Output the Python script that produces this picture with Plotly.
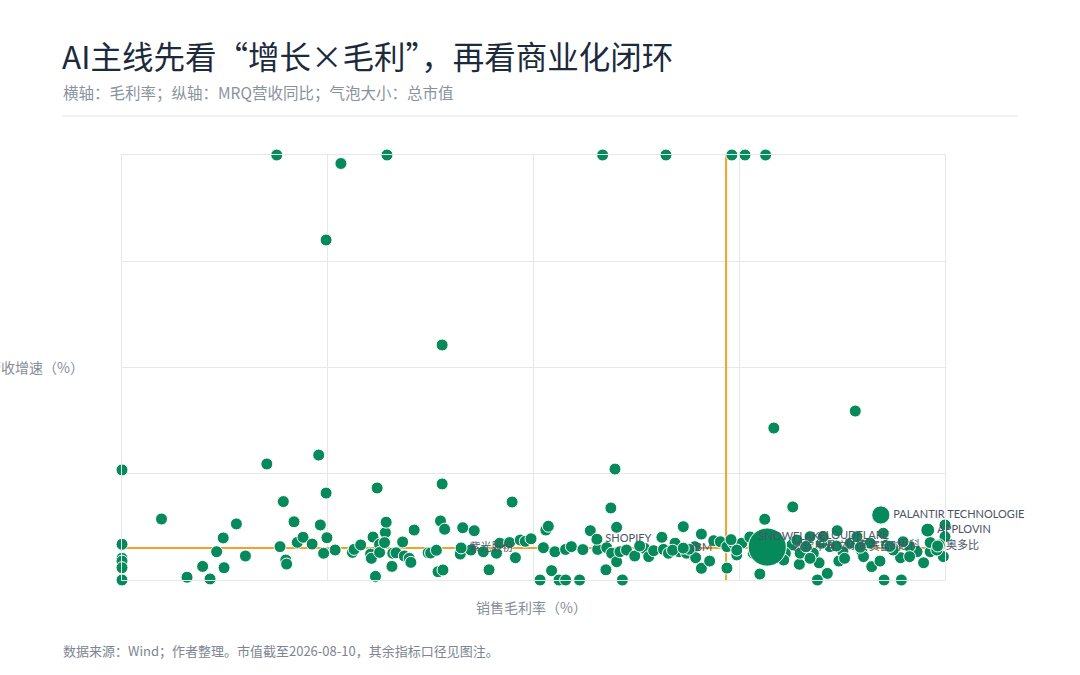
import plotly.graph_objects as go

# gross margin (%) / MRQ revenue growth (%) / market cap (unlabelled points)
margin = [
    18.8, 32.2, 58.4, 66.1, 74.1, 75.7, 78.2, 26.6, 24.8, 38.9,
    79.2, 89.1, 0.0, 17.6, 23.9, 38.9, 59.9, 24.8, 31.0, 47.4,
    59.4, 81.5, 100.0, 78.1,
    0.0, 0.0, 0.0, 0.0, 0.0, 4.8, 7.9, 9.8, 10.7, 11.5,
    12.3, 12.4, 13.9, 15.0, 19.6, 19.2, 19.9, 20.0, 20.9, 21.3,
    22.0, 23.1, 24.1, 24.5, 24.9, 25.9, 28.0, 28.2, 29.0, 30.2,
    30.3, 30.5, 30.8, 31.3, 31.3, 32.0, 32.1, 31.9, 32.9, 33.3,
    32.8, 34.1, 34.3, 34.9, 35.1, 35.5, 37.2,
    38.7, 39.2, 41.4, 42.8, 37.5, 38.2, 38.4, 39.0, 41.1, 42.4,
    43.9, 44.6, 45.5, 45.9, 47.1, 47.8, 48.4, 49.0, 49.7, 50.8,
    51.2, 51.5, 51.8, 52.2, 52.6, 53.1, 53.9, 53.9, 54.6, 55.6,
    56.0, 56.9, 57.8, 58.8, 58.9, 59.5, 60.1, 60.1, 60.5, 60.8,
    61.3, 62.3, 63.5, 64.0, 64.6, 65.6, 65.8, 66.4, 67.2, 67.7,
    68.2, 68.6, 69.6, 69.7, 70.4, 70.4, 71.4, 71.9, 72.7, 73.5,
    73.5, 74.3, 74.7, 62.9, 66.9, 68.9,
    75.3, 74.7, 77.5, 82.3, 84.5, 85.7, 84.7, 87.1, 91.1, 92.6,
    94.7, 94.6, 92.1, 97.4, 99.8, 100.0, 99.3, 98.2, 96.6, 98.2,
    95.7, 92.9, 90.9, 89.9, 88.5, 87.6, 86.0, 85.0, 84.0, 83.2,
    82.4, 81.4, 80.6, 79.9, 92.5, 94.9, 93.7, 89.3, 85.2, 82.0,
    87.8, 83.6, 80.4, 90.1, 95.7, 99.0, 76.7, 86.9, 74.0,
]
growth = [
    200.0, 200.0, 200.0, 200.0, 200.0, 200.0, 200.0, 196.0, 160.0, 110.6,
    71.5, 79.5, 51.8, 54.6, 58.8, 45.2, 52.2, 40.9, 43.3, 36.7,
    33.9, 34.4, 25.9, 28.6,
    16.8, 10.2, 8.9, 5.8, 0.0, 28.7, 1.3, 6.4, 0.5, 13.3,
    19.8, 5.8, 26.4, 11.3, 36.9, 15.7, 9.4, 7.5, 27.4, 17.7,
    20.1, 16.9, 25.9, 12.6, 19.9, 14.1, 13.0, 14.4, 16.5, 12.2,
    10.2, 20.2, 1.7, 16.8, 13.0, 22.3, 27.2, 17.6, 12.6, 12.8,
    6.4, 17.9, 11.3, 10.2, 8.3, 23.5, 12.8,
    27.8, 23.9, 24.6, 23.2, 12.7, 14.0, 3.9, 4.7, 12.2, 14.1,
    13.3, 4.8, 12.6, 17.3, 17.6, 10.5, 18.8, 18.2, 19.4, 0.0,
    15.2, 23.5, 25.3, 4.4, 13.3, 0.0, 0.0, 14.4, 15.7, 0.0,
    14.3, 23.2, 14.4, 4.8, 15.2, 12.6, 24.8, 8.6, 13.3, 0.0,
    14.1, 11.3, 14.9, 11.0, 13.8, 20.1, 14.4, 12.6, 17.3, 13.3,
    25.1, 12.6, 15.7, 10.5, 21.6, 5.5, 8.9, 18.5, 18.0, 15.7,
    5.6, 17.3, 11.8, 16.0, 14.0, 14.5,
    17.3, 14.1, 2.8, 7.4, 0.0, 3.1, 8.1, 8.9, 6.3, 0.0,
    0.0, 10.5, 8.9, 8.1, 11.0, 20.4, 16.5, 13.3, 13.3, 17.6,
    15.7, 16.5, 17.3, 13.3, 17.3, 13.3, 15.7, 17.3, 12.6, 15.7,
    12.6, 16.5, 12.6, 18.0, 22.0, 18.0, 14.1, 20.4, 20.4, 18.8,
    10.2, 10.2, 9.4, 11.0, 11.0, 14.1, 12.6, 23.2, 19.0,
]
market_cap = [
    1500, 2600, 1500, 1500, 1600, 1600, 1500, 1400, 1400, 1400,
    1500, 1500, 2500, 1500, 1600, 2200, 1600, 2200, 1600, 1600,
    1600, 3000, 2000, 2800,
    2000, 2000, 2000, 2000, 2000, 1800, 1800, 1800, 1800, 1800,
    1900, 1800, 2000, 1900, 1900, 2200, 2000, 2000, 2400, 2000,
    2100, 2000, 2000, 2000, 2400, 2000, 1900, 2000, 2000, 2000,
    2000, 2000, 2000, 2000, 2100, 2000, 2100, 2000, 2000, 2000,
    1900, 2000, 2000, 2100, 1900, 2000, 2000,
    2100, 2000, 2000, 1900, 2000, 2100, 1900, 1900, 2200, 2000,
    2000, 1800, 2100, 2000, 2100, 2000, 2000, 2000, 2000, 2000,
    2100, 2000, 2100, 1900, 2100, 1800, 1800, 2000, 2000, 1800,
    2100, 2000, 2100, 1900, 2100, 2000, 2000, 2000, 2100, 1800,
    2100, 2000, 2100, 2000, 2200, 2000, 2200, 2100, 2200, 2300,
    2300, 2100, 2200, 2000, 2000, 2000, 2000, 2200, 2100, 2200,
    2100, 2400, 2200, 2100, 2400, 2200,
    2400, 2300, 1900, 2200, 2000, 1900, 2200, 2100, 2100, 2200,
    2200, 2100, 2100, 2200, 2100, 2300, 2300, 2400, 2300, 2400,
    2400, 2400, 2400, 2400, 2500, 2400, 2500, 2500, 2500, 2500,
    2500, 2500, 2400, 2500, 2500, 2400, 2400, 2500, 2500, 2500,
    2300, 2300, 2300, 2300, 2300, 2300, 2400, 3300, 2400,
]

# labelled companies
label_names = ["SHOPIFY", "IBM", "紫光股份", "SNOWFLAKE", "CLOUDFLARE",
               "PALANTIR TECHNOLOGIE", "APPLOVIN", "微软", "甲骨文", "财捷",
               "赛富时", "思科", "奥多比"]
label_margin = [57.7, 68.2, 41.2, 76.3, 83.6, 92.2, 97.9, 78.4, 83.1, 86.8, 89.7, 93.3, 99.1]
label_growth = [19.2, 15.0, 15.1, 20.2, 20.4, 30.6, 23.5, 15.5, 15.6, 16.0, 15.4, 15.8, 16.0]
label_cap = [3000, 2600, 2200, 3600, 2600, 8000, 4600, 35000, 2800, 2600, 2600, 2600, 2600]

median_margin = 73.4
median_growth = 15.1

GREEN = "#078a5b"
ORANGE = "#f0a328"
GRID = "#e6e7eb"
FONT = "'Noto Sans CJK SC', Lato, sans-serif"

W, H = 1080, 675
L, R, T, B = 122, 945, 155, 580


def px_x(p):
    return (p - L) / (R - L)


def px_y(p):
    return (B - p) / (B - T)


marker = dict(color=GREEN, sizemode="area", sizeref=48, sizemin=6,
              line=dict(color="white", width=1), opacity=1)

fig = go.Figure()
fig.add_trace(go.Scatter(
    x=margin, y=growth, mode="markers",
    marker=dict(marker, size=market_cap),
    cliponaxis=False, hoverinfo="x+y"))
fig.add_trace(go.Scatter(
    x=label_margin, y=label_growth, mode="markers+text",
    text=label_names, textposition="middle right",
    textfont=dict(size=11, color="#4a5462", family="Lato, 'Noto Sans CJK SC', sans-serif"),
    marker=dict(marker, size=label_cap),
    cliponaxis=False, hoverinfo="text+x+y"))

# median reference lines
fig.add_shape(type="line", xref="x", yref="y", x0=0, x1=100, y0=median_growth, y1=median_growth,
              line=dict(color=ORANGE, width=2), layer="between")
fig.add_shape(type="line", xref="x", yref="y", x0=median_margin, x1=median_margin, y0=0, y1=200,
              line=dict(color=ORANGE, width=2), layer="between")

# header separator
fig.add_shape(type="line", xref="paper", yref="paper", x0=px_x(62), x1=px_x(1018),
              y0=px_y(116), y1=px_y(116), line=dict(color="#e3e5e8", width=1))

fig.add_annotation(text="AI主线先看“增长×毛利”，再看商业化闭环", xref="paper", yref="paper",
                   x=px_x(60), y=px_y(55), xanchor="left", yanchor="middle", showarrow=False,
                   font=dict(size=31.5, color="#1b2b3c", family=FONT))
fig.add_annotation(text="横轴：毛利率；纵轴：MRQ营收同比；气泡大小：总市值", xref="paper", yref="paper",
                   x=px_x(61), y=px_y(92), xanchor="left", yanchor="middle", showarrow=False,
                   font=dict(size=15.5, color="#8a929c", family=FONT))
fig.add_annotation(text="数据来源：Wind；作者整理。市值截至2026-08-10，其余指标口径见图注。",
                   xref="paper", yref="paper", x=px_x(61), y=px_y(650),
                   xanchor="left", yanchor="middle", showarrow=False,
                   font=dict(size=13, color="#7d8590", family=FONT))
fig.add_annotation(text="销售毛利率（%）", xref="paper", yref="paper",
                   x=px_x(531), y=px_y(607), xanchor="center", yanchor="middle", showarrow=False,
                   font=dict(size=14, color="#868d97", family=FONT))
fig.add_annotation(text="营收增速（%）", xref="paper", yref="paper",
                   x=px_x(86), y=px_y(367), xanchor="right", yanchor="middle", showarrow=False,
                   font=dict(size=14, color="#868d97", family=FONT))

fig.update_xaxes(range=[0, 100], dtick=25, showticklabels=False, showgrid=True, gridcolor=GRID,
                 gridwidth=1, zeroline=False, showline=True, linecolor=GRID, mirror=True, ticks="")
fig.update_yaxes(range=[0, 200], dtick=50, showticklabels=False, showgrid=True, gridcolor=GRID,
                 gridwidth=1, zeroline=False, showline=True, linecolor=GRID, mirror=True, ticks="")

fig.update_layout(
    width=W, height=H,
    margin=dict(l=L, r=W - R, t=T, b=H - B),
    paper_bgcolor="white", plot_bgcolor="white",
    showlegend=False,
    font=dict(family=FONT),
)

fig.write_html("out.html", config={"displayModeBar": False},
               post_script="document.body.style.margin='0';")
